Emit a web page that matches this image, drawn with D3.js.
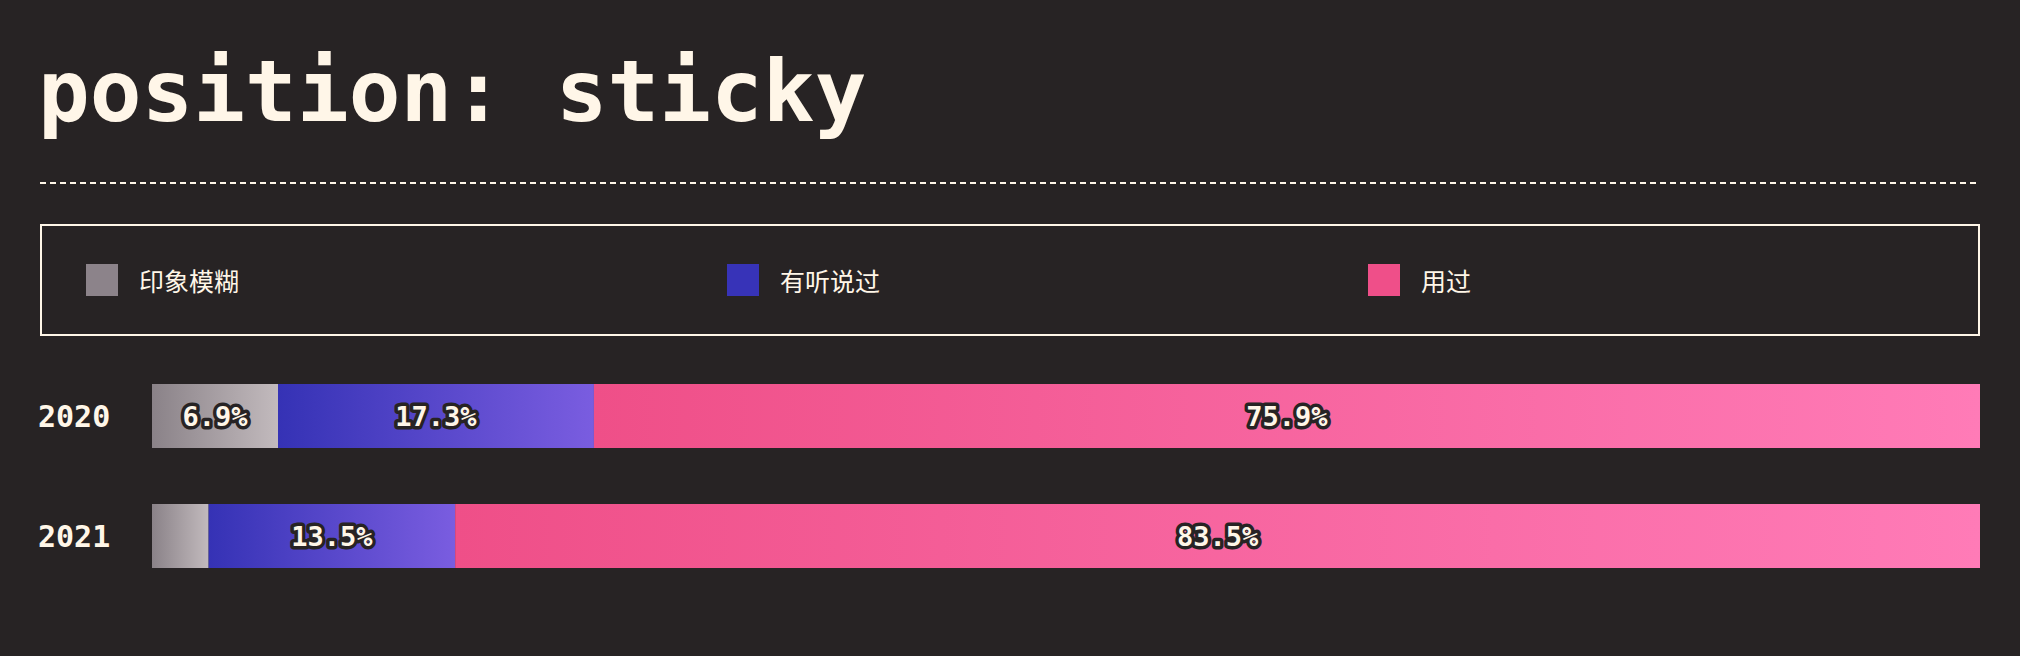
<!DOCTYPE html>
<html>
<head>
<meta charset="utf-8">
<script src="https://cdn.jsdelivr.net/npm/d3@7"></script>
<style>
  html, body { margin: 0; padding: 0; background: #272324; }
</style>
</head>
<body>
<div id="chart"></div>
<script>
// values (percent of respondents)
const years = ["2020", "2021"];
const categories = ["印象模糊", "有听说过", "用过"];
const vague = [6.9, 3.1];
const heard = [17.3, 13.5];
const used = [75.9, 83.5];

const width = 2020;
const height = 656;
const cream = "#fff6e8";
const bg = "#272324";

const keys = ["vague", "heard", "used"];
const swatchColour = d3.scaleOrdinal().domain(keys).range(["#8c838a", "#3733b8", "#ef4f89"]);
const gradStops = {
  vague: ["#8a8288", "#c2babd"],
  heard: ["#3532b5", "#7a5de0"],
  used: ["#ef4f88", "#ff7bb7"]
};

const rows = years.map((y, i) => ({ year: y, vague: vague[i], heard: heard[i], used: used[i] }));

const svg = d3.select("#chart").append("svg")
    .attr("width", width)
    .attr("height", height)
    .attr("viewBox", [0, 0, width, height]);

svg.append("rect")
    .attr("width", width)
    .attr("height", height)
    .attr("fill", bg);

// one horizontal gradient per category, stretched over each segment
const defs = svg.append("defs");
keys.forEach(k => {
  const g = defs.append("linearGradient")
      .attr("id", "grad-" + k)
      .attr("x1", 0).attr("x2", 1).attr("y1", 0).attr("y2", 0);
  g.append("stop").attr("offset", 0).attr("stop-color", gradStops[k][0]);
  g.append("stop").attr("offset", 1).attr("stop-color", gradStops[k][1]);
});

// title
svg.append("text")
    .attr("x", 38)
    .attr("y", 121)
    .style("font", "bold 86px 'DejaVu Sans Mono', monospace")
    .attr("fill", cream)
    .text("position: sticky");

svg.append("line")
    .attr("x1", 40).attr("x2", 1980)
    .attr("y1", 183).attr("y2", 183)
    .attr("stroke", cream)
    .attr("stroke-width", 2)
    .attr("stroke-dasharray", "6,4");

// legend
svg.append("rect")
    .attr("x", 41).attr("y", 225)
    .attr("width", 1938).attr("height", 110)
    .attr("fill", "none")
    .attr("stroke", cream)
    .attr("stroke-width", 2);

const legendX = d3.scalePoint().domain(keys).range([86, 86 + 641 * 2]);

const item = svg.append("g")
  .selectAll("g")
  .data(keys)
  .join("g")
    .attr("transform", d => `translate(${legendX(d)}, 280)`);

item.append("rect")
    .attr("x", 0).attr("y", -16)
    .attr("width", 32).attr("height", 32)
    .attr("fill", swatchColour);

item.append("text")
    .attr("x", 53)
    .attr("y", 0)
    .attr("dominant-baseline", "central")
    .style("font", "25px 'Noto Sans CJK SC', sans-serif")
    .attr("fill", cream)
    .text((d, i) => categories[i]);

// bars
const stack = d3.stack().keys(keys).offset(d3.stackOffsetExpand);
const series = stack(rows);

const x = d3.scaleLinear().domain([0, 1]).range([152, 1980]);
const y = d3.scalePoint().domain(years).range([416, 536]);
const barH = 64;

svg.append("g")
  .selectAll("text")
  .data(years)
  .join("text")
    .attr("x", 38)
    .attr("y", d => y(d))
    .attr("dominant-baseline", "central")
    .style("font", "bold 30px 'DejaVu Sans Mono', monospace")
    .attr("fill", cream)
    .text(d => d);

const layer = svg.append("g")
  .selectAll("g")
  .data(series)
  .join("g")
    .attr("fill", d => `url(#grad-${d.key})`);

layer.selectAll("rect")
  .data(d => d)
  .join("rect")
    .attr("x", d => x(d[0]))
    .attr("y", d => y(d.data.year) - barH / 2)
    .attr("width", d => x(d[1]) - x(d[0]))
    .attr("height", barH);

// value labels, skipped where the segment is too thin
layer.selectAll("text")
  .data(d => d.map(v => ({ v: v, key: d.key })))
  .join("text")
    .filter(d => d.v.data[d.key] >= 5)
    .attr("x", d => (x(d.v[0]) + x(d.v[1])) / 2)
    .attr("y", d => y(d.v.data.year))
    .attr("text-anchor", "middle")
    .attr("dominant-baseline", "central")
    .style("font", "bold 27px 'DejaVu Sans Mono', monospace")
    .attr("fill", cream)
    .attr("stroke", bg)
    .attr("stroke-width", 7)
    .attr("stroke-linejoin", "round")
    .attr("paint-order", "stroke")
    .text(d => d.v.data[d.key].toFixed(1) + "%");
</script>
</body>
</html>
